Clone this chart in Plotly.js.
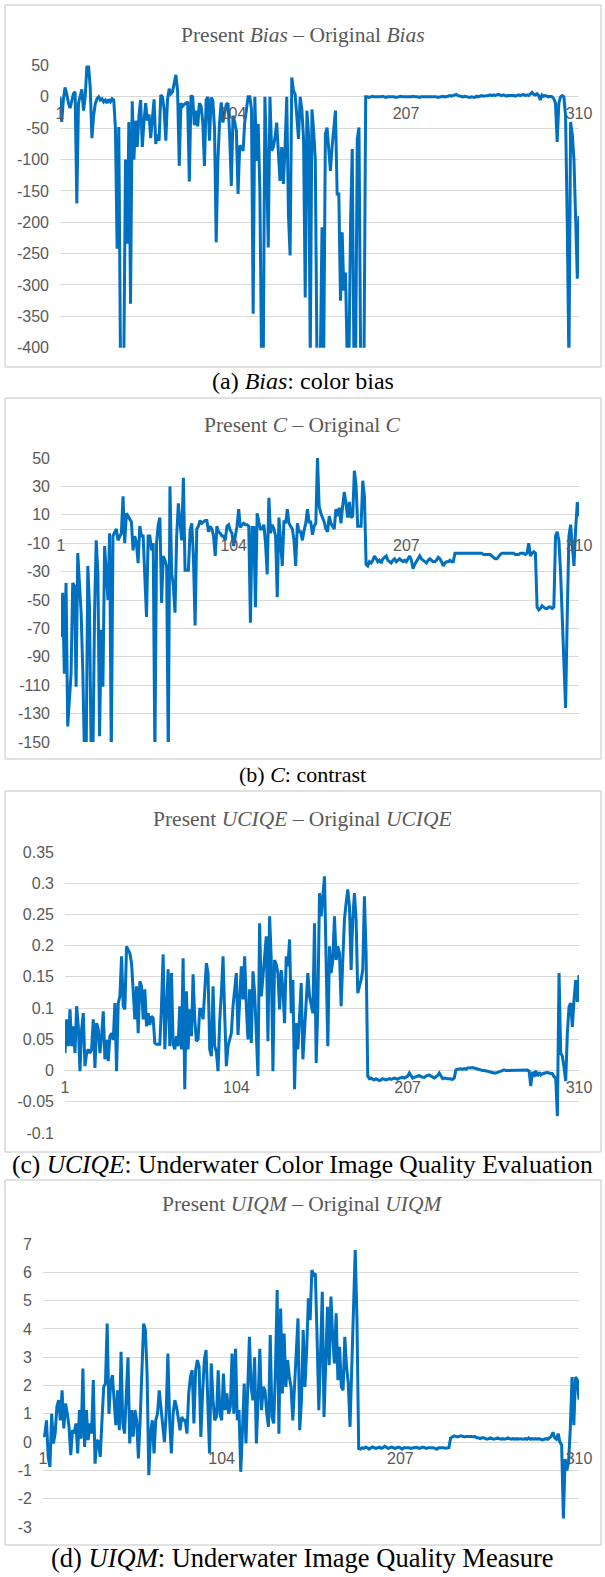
<!DOCTYPE html>
<html>
<head>
<meta charset="utf-8">
<script src="https://cdn.plot.ly/plotly-3.0.1.min.js"></script>
<style>
html,body{margin:0;padding:0;background:#fff;}
#chart{width:605px;height:1577px;}
</style>
</head>
<body>
<div id="chart"></div>
<script>
// ---------- categories ----------
const imageCount = 310;
const imageIndex = Array.from({length: imageCount}, (_, k) => k + 1);
const xTickVals = [1, 104, 207, 310];
const xTickText = ['1', '104', '207', '310'];

// ---------- series (present minus original) ----------
const biasDiff = [
 0,-40,-5,15,5,-10,-18,-5,5,8,
 -170,-10,0,12,-22,0,48,50,15,-66,
 -30,-11,-3,0,-5,-3,-8,-5,-10,-4,
 -8,-3,-5,-50,-242,-48,-420,-430,-420,-100,
 -234,-40,-330,-7,-100,-38,-80,-30,-5,-80,
 -40,-10,-38,-28,-66,-30,-4,-75,-60,-70,
 3,0,-20,-70,-5,13,5,8,20,35,
 10,-110,-10,-15,-12,-10,-8,-135,2,0,
 -45,-22,-47,-10,-15,-40,-110,-5,0,-70,
 -1,-6,-50,-232,-102,-40,-9,-41,-25,-12,
 -10,-60,-142,-30,-40,-54,-155,-78,-80,-86,
 -40,-17,0,0,-20,-346,0,-102,-43,-150,
 -420,-430,0,-102,-240,0,-86,-80,-65,-41,
 -90,-134,-80,-139,-80,0,-187,-253,31,10,
 4,-33,-67,0,-20,-67,-320,-22,-60,-420,
 -20,-54,-100,-420,-430,-420,-208,-420,-59,-49,
 -80,-118,-80,-54,-22,-155,-155,-325,-216,-309,
 -280,-420,-430,-200,-83,-420,-430,-67,-49,-420,
 -430,-420,0,0,-1,0,1,0,0,-1,
 0,0,1,0,-1,0,0,1,0,0,
 -1,0,0,1,0,0,-1,0,0,0,
 1,0,0,0,-1,0,0,1,0,0,
 0,1,1,0,0,-1,0,0,1,0,
 0,1,2,1,2,3,4,2,1,1,
 0,1,0,-1,-1,0,0,-1,1,0,
 1,2,1,1,2,2,3,2,3,2,
 3,4,3,2,3,2,1,2,2,3,
 2,1,2,3,2,3,4,2,3,2,
 5,7,4,3,5,2,-5,3,1,2,
 1,0,1,0,-3,-10,-72,-10,0,2,
 0,-30,-200,-430,-40,-60,-100,-180,-290,-190
];

const contrastDiff = [
 -76,-45,-102,-38,-139,-121,-102,-38,-40,-111,
 -17,-38,-59,-100,-160,-160,-26,-55,-160,-165,
 -60,-8,-31,-146,-71,-111,-12,-30,-50,-3,
 -160,-5,-3,0,-8,-5,-3,23,-10,11,
 9,8,5,-15,-5,-10,-24,2,-5,-5,
 -31,-62,-5,-5,-15,-10,-160,-10,3,8,
 -52,-19,-22,-26,-160,30,-31,-40,-59,-5,
 18,5,-8,36,-29,-29,-29,-1,4,-20,
 -68,0,2,6,4,5,6,6,-2,2,
 0,-5,-19,2,-2,-3,-5,-5,-8,2,
 3,-1,-3,-12,-5,2,14,1,3,4,
 3,3,2,-66,1,1,-55,11,5,0,
 0,3,-10,-32,22,-3,3,0,-5,-48,
 8,-10,-26,6,4,14,4,2,0,-8,
 -26,4,-2,-2,-8,-1,4,14,5,5,
 -4,2,4,50,16,11,8,5,0,-2,
 9,4,2,0,14,9,15,4,16,26,
 18,8,19,8,9,41,31,2,2,2,
 34,23,-25,-26,-23,-24,-22,-19,-21,-23,
 -22,-24,-21,-20,-19,-22,-23,-24,-22,-21,
 -23,-22,-21,-22,-23,-22,-23,-21,-19,-22,
 -28,-25,-23,-21,-19,-21,-22,-23,-24,-22,
 -21,-22,-23,-23,-22,-20,-21,-23,-26,-24,
 -23,-23,-22,-23,-23,-17,-17,-17,-17,-17,
 -17,-17,-17,-17,-17,-17,-17,-17,-17,-17,
 -17,-17,-18,-18,-18,-18,-18,-19,-20,-21,
 -21,-19,-18,-17,-17,-17,-17,-17,-17,-17,
 -17,-18,-18,-18,-17,-17,-17,-18,-17,-10,
 -19,-17,-16,-17,-55,-57,-56,-54,-55,-56,
 -56,-55,-55,-56,-55,-5,-2,-8,-30,-65,
 -95,-126,-60,-5,3,-10,-26,0,19,9
];

const uciqeDiff = [
 0.028,0.082,0.039,0.098,0.039,0.071,0.028,0.103,0.071,-0.001,
 0.066,0.092,0.007,0.028,0.034,0.028,0.034,0.082,0.004,0.076,
 0.066,0.028,0.055,0.095,0.018,0.049,0.015,0.055,0.06,0.049,
 0.108,-0.001,0.108,0.119,0.183,0.103,0.098,0.199,0.193,0.188,
 0.172,0.135,0.082,0.135,0.06,0.143,0.135,0.082,0.13,0.071,
 0.092,0.073,0.087,0.084,0.044,0.042,0.042,0.042,0.103,0.186,
 0.034,0.103,0.162,0.039,0.156,0.042,0.034,0.055,0.039,0.103,
 0.034,0.18,-0.03,0.127,0.034,0.098,0.055,0.154,0.082,0.047,
 0.05,0.098,0.098,0.082,0.135,0.172,0.156,0.034,0.023,0.135,
 0.039,0.03,-0.001,0.08,0.124,0.183,0.09,0.007,0.039,0.05,
 0.06,0.103,0.13,0.156,0.057,0.11,0.167,0.114,0.183,0.103,
 0.05,0.13,0.044,0.159,0.124,0.06,-0.009,0.236,0.119,0.15,
 0.177,0.215,0.047,0.247,0.177,-0.001,0.177,0.17,0.156,0.098,
 0.161,0.13,0.076,0.183,0.167,0.21,0.092,0.145,-0.03,0.076,
 0.034,0.082,0.14,0.018,0.06,0.1,0.156,0.119,0.103,0.092,
 0.236,0.012,0.103,0.284,0.247,0.279,0.311,0.172,0.039,0.199,
 0.156,0.177,0.247,0.177,0.199,0.188,0.103,0.177,0.242,0.268,
 0.29,0.263,0.161,0.242,0.284,0.242,0.124,0.135,0.145,0.161,
 0.279,0.188,-0.009,-0.013,-0.012,-0.014,-0.015,-0.013,-0.014,-0.016,
 -0.015,-0.013,-0.014,-0.015,-0.014,-0.013,-0.014,-0.013,-0.012,-0.013,
 -0.014,-0.012,-0.011,-0.011,-0.012,-0.01,-0.009,-0.004,-0.008,-0.012,
 -0.011,-0.01,-0.009,-0.008,-0.01,-0.011,-0.011,-0.009,-0.008,-0.007,
 -0.009,-0.011,-0.012,-0.01,-0.008,-0.004,-0.009,-0.013,-0.012,-0.013,
 -0.013,-0.013,-0.014,-0.014,-0.012,0.001,0.002,0.003,0.003,0.002,
 0.003,0.002,0.004,0.004,0.005,0.005,0.004,0.003,0.002,0.001,
 0.001,0,0,0,-0.001,-0.002,-0.003,-0.003,-0.004,-0.004,
 -0.003,-0.001,0,0.001,0.001,0,0,0,0.001,0.001,
 0.001,0.001,0,0,0,0,0.001,0.001,0.001,-0.001,
 -0.025,-0.002,-0.01,0,-0.009,-0.003,-0.007,-0.005,-0.004,-0.004,
 -0.003,-0.004,-0.004,-0.005,-0.01,-0.012,-0.073,0.156,0.028,0.023,
 0.005,-0.017,0.06,0.102,0.108,0.07,0.113,0.145,0.11,0.153
];

const uiqmDiff = [
 0.2,0.24,0.77,-0.52,-0.88,1.0,-0.05,0.3,1.25,1.48,
 0.77,1.83,0.48,1.36,1.0,0.54,-0.46,0.42,0.3,0.66,
 -0.4,1.13,0.12,2.6,-0.17,1.13,0.07,0.66,0.3,2.19,
 -0.76,0.07,0.01,-0.52,0.77,1.95,2.07,4.19,1.0,2.07,
 2.37,1.6,0.6,1.83,0.42,3.19,0.66,0.3,1.48,3.0,
 -0.05,1.13,0.19,1.13,0.77,-0.58,0.77,2.19,4.19,3.96,
 2.42,-1.17,0.3,0.77,-0.4,0.77,1.0,1.83,1.25,0.77,
 0.0,1.0,3.13,0.77,-0.4,1.0,1.48,1.25,0.89,0.42,
 0.89,0.77,0.77,0.3,1.72,2.31,2.54,0.66,2.54,2.9,
 2.66,0.18,1.72,2.9,3.25,1.72,-0.4,2.78,1.5,0.77,
 0.89,2.54,1.0,0.77,2.42,1.13,1.72,1.0,1.25,3.13,
 1.0,3.3,0.77,1.13,-1.05,0.42,2.07,-0.05,1.72,3.72,
 1.95,1.48,3.0,-0.05,1.48,3.3,1.13,1.95,1.83,1.0,
 0.54,3.78,0.89,0.66,2.54,5.37,0.3,4.72,1.72,3.84,
 1.95,2.9,2.31,1.95,0.77,1.95,2.9,4.37,0.42,1.48,
 3.96,1.95,3.25,5.08,4.31,6.08,5.9,5.96,3.72,1.13,
 3.13,5.31,0.89,3.13,4.78,2.72,5.14,3.72,2.78,4.55,
 2.19,3.37,1.95,1.83,3.72,2.66,2.07,0.54,2.78,4.31,
 6.79,4.31,-0.23,-0.25,-0.2,-0.22,-0.18,-0.2,-0.25,-0.2,
 -0.17,-0.2,-0.22,-0.2,-0.18,-0.22,-0.2,-0.15,-0.2,-0.22,
 -0.2,-0.18,-0.2,-0.22,-0.2,-0.18,-0.2,-0.25,-0.2,-0.2,
 -0.18,-0.2,-0.22,-0.2,-0.2,-0.18,-0.2,-0.22,-0.2,-0.18,
 -0.2,-0.22,-0.2,-0.2,-0.18,-0.2,-0.22,-0.25,-0.2,-0.2,
 -0.18,-0.2,-0.22,-0.2,-0.2,0.15,0.2,0.22,0.2,0.18,
 0.2,0.22,0.2,0.18,0.2,0.2,0.22,0.2,0.18,0.2,
 0.15,0.15,0.12,0.15,0.15,0.12,0.1,0.12,0.15,0.12,
 0.1,0.12,0.15,0.12,0.1,0.12,0.1,0.12,0.15,0.12,
 0.1,0.12,0.1,0.12,0.1,0.12,0.1,0.1,0.12,0.1,
 0.15,0.1,0.12,0.1,0.12,0.1,0.12,0.1,0.08,0.1,
 0.12,0.1,0.15,0.2,0.35,0.15,0.1,0.3,0.0,-0.1,
 -2.7,-0.6,-1.0,-0.7,0.5,2.3,0.6,2.3,2.2,1.5
];

// ---------- y tick labels ----------
const biasTickVals = [50,0,-50,-100,-150,-200,-250,-300,-350,-400];
const biasTickText = ['50','0','-50','-100','-150','-200','-250','-300','-350','-400'];
const contrastTickVals = [50,30,10,-10,-30,-50,-70,-90,-110,-130,-150];
const contrastTickText = ['50','30','10','-10','-30','-50','-70','-90','-110','-130','-150'];
const uciqeTickVals = [0.35,0.3,0.25,0.2,0.15,0.1,0.05,0,-0.05,-0.1];
const uciqeTickText = ['0.35','0.3','0.25','0.2','0.15','0.1','0.05','0','-0.05','-0.1'];
const uiqmTickVals = [7,6,5,4,3,2,1,0,-1,-2,-3];
const uiqmTickText = ['7','6','5','4','3','2','1','0','-1','-2','-3'];

// ---------- texts ----------
const panelTitles = [
  'Present <i>Bias</i> – Original <i>Bias</i>',
  'Present <i>C</i> – Original <i>C</i>',
  'Present <i>UCIQE</i> – Original <i>UCIQE</i>',
  'Present <i>UIQM</i> – Original <i>UIQM</i>'
];
const panelCaptions = [
  '(a) <i>Bias</i>: color bias',
  '(b) <i>C</i>: contrast',
  '(c) <i>UCIQE</i>: Underwater Color Image Quality Evaluation',
  '(d) <i>UIQM</i>: Underwater Image Quality Measure'
];

// ---------- layout geometry (pixels) ----------
const W = 605, H = 1577;
const fx = p => p / W;
const fy = p => 1 - p / H;

const panels = [
  {y: biasDiff, tv: biasTickVals, tt: biasTickText, range: [-400, 50],
   px: [60, 579], py: [65.5, 347.7], box: [5, 601, 5, 367], titleY: 35, capY: 381, capSize: 24},
  {y: contrastDiff, tv: contrastTickVals, tt: contrastTickText, range: [-150, 50],
   px: [61, 579], py: [458, 742], box: [5, 601, 398, 759], titleY: 425, capY: 774, capSize: 22},
  {y: uciqeDiff, tv: uciqeTickVals, tt: uciqeTickText, range: [-0.1, 0.35],
   px: [65, 579], py: [852, 1133], box: [5, 601, 791, 1152], titleY: 819, capY: 1164, capSize: 25.5},
  {y: uiqmDiff, tv: uiqmTickVals, tt: uiqmTickText, range: [-3, 7],
   px: [43, 579], py: [1244, 1527], box: [5, 601, 1180, 1545], titleY: 1204, capY: 1558, capSize: 26.5}
];

const gridCol = '#d9d9d9';
const labelCol = '#595959';
const tickFont = {family: 'Liberation Sans, Arial, sans-serif', size: 16, color: labelCol};

const data = [];
const layout = {
  width: W, height: H,
  margin: {l: 0, r: 0, t: 0, b: 0, pad: 0},
  paper_bgcolor: '#ffffff', plot_bgcolor: '#ffffff',
  showlegend: false,
  annotations: [], shapes: []
};

panels.forEach((p, k) => {
  const n = k === 0 ? '' : String(k + 1);
  const yDom = [fy(p.py[1]), fy(p.py[0])];
  const zeroPos = yDom[0] + (0 - p.range[0]) / (p.range[1] - p.range[0]) * (yDom[1] - yDom[0]);
  data.push({
    type: 'scatter', mode: 'lines',
    x: imageIndex, y: p.y,
    xaxis: 'x' + n, yaxis: 'y' + n,
    line: {color: '#0070C0', width: 3},
    hoverinfo: 'skip'
  });
  layout['xaxis' + n] = {
    domain: [fx(p.px[0]), fx(p.px[1])],
    range: [1, imageCount],
    anchor: 'free', position: zeroPos,
    tickmode: 'array', tickvals: xTickVals, ticktext: xTickText,
    ticks: '', showgrid: false, zeroline: false, showline: false,
    tickfont: tickFont, ticklabelstandoff: 5
  };
  layout['yaxis' + n] = {
    domain: yDom,
    range: p.range,
    anchor: 'x' + n,
    tickmode: 'array', tickvals: p.tv, ticktext: p.tt,
    ticks: '', showgrid: true, gridcolor: gridCol, gridwidth: 1,
    zeroline: true, zerolinecolor: gridCol, zerolinewidth: 1,
    showline: false, tickfont: tickFont, ticklabelstandoff: 10
  };
  layout.shapes.push({
    type: 'rect', xref: 'paper', yref: 'paper',
    x0: fx(p.box[0]), x1: fx(p.box[1]), y0: fy(p.box[3]), y1: fy(p.box[2]),
    line: {color: '#c4c4c4', width: 1}, fillcolor: 'rgba(0,0,0,0)', layer: 'below'
  });
  layout.annotations.push({
    xref: 'paper', yref: 'paper', x: 0.5, y: fy(p.titleY),
    xanchor: 'center', yanchor: 'middle', showarrow: false,
    text: panelTitles[k],
    font: {family: 'Liberation Serif, Times New Roman, serif', size: 21.5, color: labelCol}
  });
  layout.annotations.push({
    xref: 'paper', yref: 'paper', x: 0.5, y: fy(p.capY),
    xanchor: 'center', yanchor: 'middle', showarrow: false,
    text: panelCaptions[k],
    font: {family: 'Liberation Serif, Times New Roman, serif', size: p.capSize, color: '#000000'}
  });
});

Plotly.newPlot('chart', data, layout, {staticPlot: true, displayModeBar: false});
</script>
</body>
</html>
